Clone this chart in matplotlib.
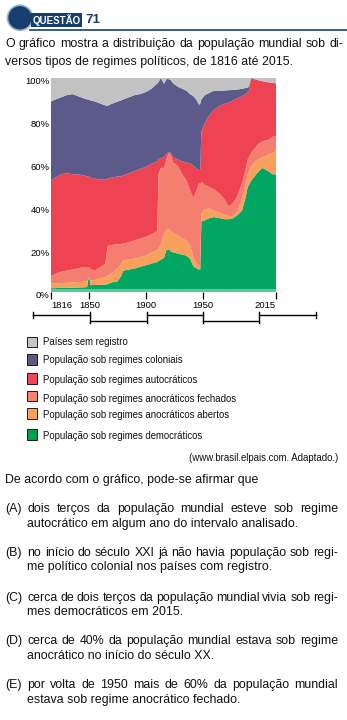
import numpy as np
import matplotlib
matplotlib.use("Agg")
import matplotlib.pyplot as plt
from matplotlib import font_manager
from matplotlib.lines import Line2D
from matplotlib.patches import Circle, Rectangle
from matplotlib.transforms import Affine2D, ScaledTranslation

# ---------------- data (cumulative tops of the stacked layers, % of world population) -------------
years = [1816, 1820, 1825, 1830, 1835, 1840, 1845, 1848, 1849, 1850, 1851, 1855, 1860, 1864, 1866,
         1870, 1875, 1878, 1880, 1885, 1890, 1895, 1900, 1905, 1910, 1911, 1913, 1916, 1918, 1920,
         1922, 1924, 1928, 1932, 1936, 1939, 1942, 1945, 1947, 1948, 1949, 1952, 1956, 1960, 1965,
         1970, 1973, 1977, 1981, 1985, 1988, 1990, 1991, 1993, 1996, 1999, 2003, 2008, 2012, 2015]
top_democratic = [1.8, 1.8, 2.0, 2.0, 2.0, 2.1, 2.2, 2.3, 6.2, 6.2, 3.2, 3.3, 3.4, 3.5, 3.6,
                  4.5, 5.0, 7.5, 10, 10.5, 11, 11.8, 12.5, 13.3, 14, 14.5, 15, 16, 19.5, 20,
                  19, 18.5, 18, 17.5, 17, 15.5, 12, 11, 10.5, 10.5, 33, 33.5, 34.5, 35, 34.5,
                  34, 34, 34.5, 36, 38, 44, 49, 50, 52, 54, 56, 58, 56.5, 55, 55]
top_anoc_open = [4.0, 4.0, 4.2, 4.3, 4.4, 4.6, 4.8, 5.0, 6.4, 6.4, 5.4, 5.6, 6.5, 7.0, 7.5,
                 9.0, 11, 13, 14.8, 15.2, 15.6, 16.3, 17, 18.5, 19.5, 20, 22, 27, 29, 29.5,
                 28.5, 27.5, 26.5, 25, 24, 22, 16, 13, 12.5, 12.5, 36.5, 38.5, 39, 38, 37,
                 36, 35.5, 35.5, 37.5, 44, 50, 55, 56, 58.5, 60.5, 62, 63, 64, 65, 66]
top_anoc_closed = [7.5, 8.5, 9.5, 10, 10.5, 11, 11.7, 11.7, 11.7, 11.5, 10.5, 10.2, 11.7, 13.2, 21.5,
                   22, 22.3, 22.5, 22.6, 23.3, 24.1, 25, 25.7, 27, 28.5, 55, 58, 58, 62, 65,
                   64, 60.5, 59, 55, 52, 47.5, 44, 48, 51, 50, 51.5, 50, 49, 48, 46,
                   43, 40, 41.5, 45, 51, 57, 62, 63, 65, 67, 69, 70.5, 71, 72.5, 73]
top_autocratic = [52, 53.5, 55, 55.5, 55, 55, 54.5, 54, 54, 53.8, 53.5, 53, 52.5, 52.5, 53,
                  53.5, 54, 54, 54.5, 55.5, 56.5, 57.5, 58.5, 60, 61, 62, 62.5, 63, 64.5, 65.5,
                  65, 63, 62, 61, 60.5, 60, 59, 57.5, 57, 57, 75, 79, 82.5, 85, 87,
                  88, 88.5, 89.5, 90.5, 91.5, 92.5, 93.5, 94, 100, 99.5, 99, 98.5, 98, 97.8, 97.5]
top_colonial = [89, 90, 91, 92, 92.5, 91.5, 90.5, 90, 90, 89.8, 89.5, 89, 88, 87.2, 87,
                88, 89, 89.5, 90, 91, 92, 92.5, 93.5, 95, 97.5, 98, 100, 97.3, 99.5, 99.5,
                99, 97.5, 96, 95, 94, 92.5, 91.5, 89.5, 87.5, 88, 90, 92, 93, 94, 94,
                94.2, 94.3, 94.4, 94.6, 95, 95.3, 95.5, 96, 100, 99.5, 99, 98.5, 98, 97.8, 97.5]

series_labels = ["Países sem registro", "População sob regimes coloniais",
                 "População sob regimes autocráticos", "População sob regimes anocráticos fechados",
                 "População sob regimes anocráticos abertos", "População sob regimes democráticos"]
x_ticks = [1816, 1850, 1900, 1950, 2015]
y_ticks = [0, 20, 40, 60, 80, 100]
y_tick_labels = ["0%", "20%", "40%", "60%", "80%", "100%"]

intro_lines = ["O gráfico mostra a distribuição da população mundial sob di-",
               "versos tipos de regimes políticos, de 1816 até 2015."]
source_text = "(www.brasil.elpais.com. Adaptado.)"
question_text = "De acordo com o gráfico, pode-se afirmar que"
options = [
    ("(A)", ["dois terços da população mundial esteve sob regime",
             "autocrático em algum ano do intervalo analisado."]),
    ("(B)", ["no início do século XXI já não havia população sob regi-",
             "me político colonial nos países com registro."]),
    ("(C)", ["cerca de dois terços da população mundial vivia sob regi-",
             "mes democráticos em 2015."]),
    ("(D)", ["cerca de 40% da população mundial estava sob regime",
             "anocrático no início do século XX."]),
    ("(E)", ["por volta de 1950 mais de 60% da população mundial",
             "estava sob regime anocrático fechado."]),
]

# ---------------- style ----------------
W, H = 347, 720
FONT = "Liberation Sans"
plt.rcParams["font.family"] = [FONT, "DejaVu Sans"]
navy = "#173f6d"
layer_colors = ["#00a661", "#f8a05c", "#f47f70", "#ee4353", "#5b5a8b", "#c2c2c2"]  # bottom -> top
legend_colors = ["#c4c4c4", "#5c5a85", "#ef4756", "#f5836f", "#f9a259", "#00a04f"]
TXT = "#111111"

fig = plt.figure(figsize=(W / 100, H / 100), dpi=100)
fig.patch.set_facecolor("white")
T = Affine2D().scale(1 / W, -1 / H).translate(0, 1) + fig.transFigure  # top-left pixel coords
renderer = fig.canvas.get_renderer()

# ---------------- header ----------------
fig.add_artist(Line2D([30, W], [29.5, 29.5], transform=T, color=navy, lw=1.2))
fig.add_artist(Circle((20, 17.8), 12.5, transform=T, facecolor=navy, edgecolor="#9db2c9", lw=1.2))
fig.add_artist(Rectangle((30.7, 12.5), 51, 14.5, transform=T, facecolor=navy, edgecolor="none"))
names = {f.name for f in font_manager.fontManager.ttflist}
qfam = "Liberation Sans Narrow" if "Liberation Sans Narrow" in names else FONT
qt = fig.text(56.2, 20, "QUESTÃO", transform=T, color="white", fontweight="bold",
              family=qfam, fontsize=9.5, ha="center", va="center")
wq = qt.get_window_extent(renderer).width
if wq > 48:
    qt.set_fontsize(9.5 * 48 / wq)
fig.text(85, 20, "71", transform=T, color=navy, fontweight="bold", family=qfam,
         fontsize=9.5, ha="left", va="center")


def word_widths(words, size):
    ws = []
    for w in words:
        t = fig.text(0, 0, w, fontsize=size, transform=T)
        ws.append(t.get_window_extent(renderer).width)
        t.remove()
    return ws


def justified(line, x0, x1, y, size):
    words = line.split(" ")
    ws = word_widths(words, size)
    gap = (x1 - x0 - sum(ws)) / (len(words) - 1)
    x = x0
    for w, wd in zip(words, ws):
        fig.text(x, y, w, fontsize=size, transform=T, ha="left", va="baseline", color=TXT)
        x += wd + gap


BODY = 8.9
justified(intro_lines[0], 5, 343, 47.3, BODY)
fig.text(5, 65, intro_lines[1], fontsize=BODY, transform=T, va="baseline", color=TXT)

# ---------------- chart ----------------
ax = fig.add_axes([51 / W, 1 - 292 / H, (276 - 51) / W, (292 - 78) / H])
yrs = np.array(years, dtype=float)
tops = [np.zeros_like(yrs), np.array(top_democratic), np.array(top_anoc_open),
        np.array(top_anoc_closed), np.array(top_autocratic), np.array(top_colonial),
        np.full_like(yrs, 100.0)]
shares = [tops[i + 1] - tops[i] for i in range(6)]
ax.stackplot(yrs, *shares, colors=layer_colors, linewidth=0, antialiased=True)
ax.axhspan(0, 1.4, color="#5cc7a0", lw=0)
ax.set_xlim(1816, 2015)
ax.set_ylim(0, 100)
for s in ax.spines.values():
    s.set_visible(False)
ax.set_xticks(x_ticks)
ax.set_xticklabels([str(v) for v in x_ticks], fontsize=6.8)
ax.tick_params(axis="x", direction="out", length=5, width=0.9, color="black", pad=1.5)
ax.set_yticks(y_ticks)
ax.set_yticklabels(y_tick_labels, fontsize=6.8)
ax.tick_params(axis="y", length=0, pad=1.2)
xl = ax.get_xticklabels()
xl[0].set_horizontalalignment("left")
xl[-1].set_horizontalalignment("right")
off = ScaledTranslation(0, -3 / 100, fig.dpi_scale_trans)
for lab in ax.get_yticklabels():
    lab.set_transform(lab.get_transform() + off)

# bracket timeline
up, lo, tp = 315, 321, 312
xs = [33, 90, 147, 203, 259, 316]
for i in range(5):
    yy = up if i % 2 == 0 else lo
    fig.add_artist(Line2D([xs[i], xs[i + 1]], [yy, yy], transform=T, color="black", lw=1.0))
for i, x in enumerate(xs):
    if i in (0, len(xs) - 1):
        fig.add_artist(Line2D([x, x], [tp, 318], transform=T, color="black", lw=1.0))
    else:
        fig.add_artist(Line2D([x, x], [tp, 322.5], transform=T, color="black", lw=1.0))

# ---------------- legend ----------------
sq_tops = [336.7, 354, 373.3, 390.7, 408.3, 429.3]
txt_base = [345, 363.3, 382.7, 401.7, 418.3, 439]
for lab, col, yt, yb in zip(series_labels, legend_colors, sq_tops, txt_base):
    fig.add_artist(Rectangle((26.7, yt), 10.6, 10.6, transform=T, facecolor=col,
                             edgecolor="black", lw=0.6))
    fig.text(43.3, yb, lab, fontsize=6.95, transform=T, va="baseline", color=TXT)

fig.text(338, 460.7, source_text, fontsize=6.95, transform=T, ha="right", va="baseline", color=TXT)
fig.text(5, 483.3, question_text, fontsize=BODY, transform=T, va="baseline", color=TXT)

# ---------------- options ----------------
opt_base = [512.3, 556, 601, 644.3, 688.3]
for (lab, lines), yb in zip(options, opt_base):
    fig.text(5.5, yb, lab, fontsize=BODY, transform=T, va="baseline", color=TXT)
    justified(lines[0], 27.3, 338, yb, BODY)
    fig.text(27.3, yb + 14.4, lines[1], fontsize=BODY, transform=T, va="baseline", color=TXT)

fig.savefig("out.png", dpi=100, facecolor="white")
